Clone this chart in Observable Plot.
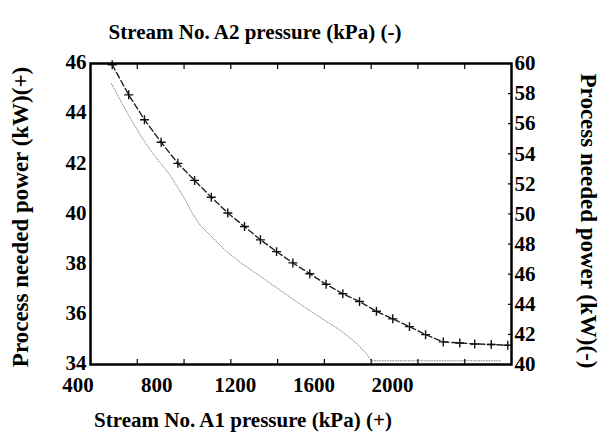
<!DOCTYPE html>
<html>
<head>
<meta charset="utf-8">
<script src="https://cdn.jsdelivr.net/npm/d3@7"></script>
<script src="https://cdn.jsdelivr.net/npm/@observablehq/plot@0.6"></script>
<style>
  html, body { margin: 0; padding: 0; background: #fff; }
  svg { display: block; }
</style>
</head>
<body>
<div id="chart"></div>
<script>
// Series (+): Stream A1 pressure (kPa) vs process needed power (kW), left axis
const plusPressure = [574, 658, 738, 823, 908, 993, 1078, 1162, 1247, 1328, 1410, 1493, 1579, 1662, 1747, 1832, 1918, 2001, 2086, 2168, 2258, 2342, 2418, 2502, 2586];
const plusPower = [45.95, 44.75, 43.76, 42.86, 42.02, 41.34, 40.67, 40.04, 39.50, 38.97, 38.50, 38.05, 37.62, 37.20, 36.82, 36.51, 36.12, 35.82, 35.51, 35.19, 34.90, 34.86, 34.82, 34.80, 34.77];

// Series (-): Stream A2 pressure (kPa) vs process needed power (kW), right axis
const minusPressure = [570, 616, 667, 718, 769, 820, 870, 911, 947, 982, 1023, 1074, 1150, 1227, 1328, 1430, 1532, 1633, 1735, 1812, 1862, 1893, 2554];
const minusPower = [58.67, 57.54, 56.35, 55.22, 54.22, 53.36, 52.56, 51.69, 50.90, 50.03, 49.24, 48.57, 47.57, 46.78, 45.85, 44.92, 43.99, 43.12, 42.26, 41.46, 40.80, 40.25, 40.25];

// Axis ticks
const bottomTickLabels = [400, 800, 1200, 1600, 2000];
const leftTicks = [34, 36, 38, 40, 42, 44, 46];
const rightTicks = [40, 42, 44, 46, 48, 50, 52, 54, 56, 58, 60];

const xDomain = [463.6, 2605];
const leftDomain = [34, 46];
const rightDomain = [40, 60];
// map right-axis value into left-axis units
const toLeft = v => leftDomain[0] + (v - rightDomain[0]) * (leftDomain[1] - leftDomain[0]) / (rightDomain[1] - rightDomain[0]);
const toRight = v => rightDomain[0] + (v - leftDomain[0]) * (rightDomain[1] - rightDomain[0]) / (leftDomain[1] - leftDomain[0]);

const plusData = plusPressure.map((x, i) => ({x, y: plusPower[i]}));
const minusData = minusPressure.map((x, i) => ({x, y: toLeft(minusPower[i])}));
const frameTicks = d3.range(1, 9).map(i => xDomain[0] + i * (xDomain[1] - xDomain[0]) / 9);

const font = "'Liberation Serif', 'Times New Roman', serif";
const bold = {fontFamily: font, fontWeight: "bold"};

const chart = Plot.plot({
  width: 603,
  height: 435,
  marginLeft: 90,
  marginRight: 92,
  marginTop: 63,
  marginBottom: 71,
  style: {fontFamily: font, fontWeight: "bold", fontSize: "21px", color: "black", background: "white"},
  x: {domain: xDomain},
  y: {domain: leftDomain},
  marks: [
    Plot.line(minusData, {x: "x", y: "y", stroke: "#8a8a8a", strokeWidth: 1, strokeDasharray: "1,1.6"}),
    Plot.line(plusData, {x: "x", y: "y", stroke: "#222", strokeWidth: 1.4, strokeDasharray: "6,3"}),
    Plot.dot(plusData, {x: "x", y: "y", symbol: "plus", r: 3, stroke: "#111", strokeWidth: 1.4}),
    // bottom axis: tick marks inward + labels
    Plot.axisX({anchor: "bottom", ticks: frameTicks, tickSize: -5, tickFormat: () => "", label: null, strokeWidth: 1.2}),
    Plot.axisX({anchor: "bottom", ticks: bottomTickLabels, tickSize: 0, tickPadding: 13, tickFormat: d => String(d), label: null, fontSize: 21, ...bold}),
    // top axis: tick marks only
    Plot.axisX({anchor: "top", ticks: frameTicks, tickSize: -5, tickFormat: () => "", label: null, strokeWidth: 1.2}),
    // left axis
    Plot.axisY({anchor: "left", ticks: leftTicks, tickSize: 0, tickPadding: 4, dy: -1, label: null, fontSize: 21, ...bold}),
    // right axis
    Plot.axisY({anchor: "right", ticks: rightTicks.map(toLeft), tickSize: -4, tickFormat: () => "", label: null, strokeWidth: 1.2}),
    Plot.axisY({anchor: "right", ticks: rightTicks.map(toLeft), tickSize: 0, tickPadding: 3, tickFormat: d => String(Math.round(toRight(d))), label: null, fontSize: 21, ...bold}),
    Plot.frame({stroke: "black", strokeWidth: 2.5}),
    // axis titles
    Plot.text(["Stream No. A2 pressure (kPa) (-)"], {frameAnchor: "top", textAnchor: "middle", lineAnchor: "middle", dx: -46, dy: -31, fontSize: 21, ...bold, fill: "black"}),
    Plot.text(["Stream No. A1 pressure (kPa) (+)"], {frameAnchor: "bottom", textAnchor: "middle", lineAnchor: "middle", dx: -58, dy: 56, fontSize: 21, ...bold, fill: "black"}),
    Plot.text(["Process needed power (kW)(+)"], {frameAnchor: "left", textAnchor: "middle", lineAnchor: "middle", dx: -70, dy: 3, rotate: -90, fontSize: 23, ...bold, fill: "black"}),
    Plot.text(["Process needed power (kW)(-)"], {frameAnchor: "right", textAnchor: "middle", lineAnchor: "middle", dx: 77, dy: 7, rotate: 90, fontSize: 23, ...bold, fill: "black"})
  ]
});
document.getElementById("chart").appendChild(chart);
</script>
</body>
</html>
